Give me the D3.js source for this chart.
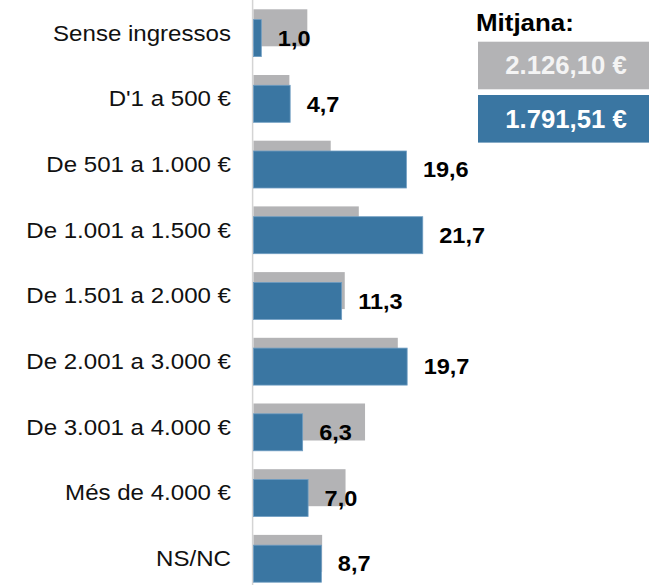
<!DOCTYPE html>
<html>
<head>
<meta charset="utf-8">
<script src="https://cdn.jsdelivr.net/npm/d3@7"></script>
<style>
  body { margin: 0; background: #fff; }
  text { font-family: 'Liberation Sans', Arial, sans-serif; }
</style>
</head>
<body>
<div id="graph"></div>
<script>
const categories = [
	'Sense ingressos',
	"D'1 a 500 €",
	'De 501 a 1.000 €',
	'De 1.001 a 1.500 €',
	'De 1.501 a 2.000 €',
	'De 2.001 a 3.000 €',
	'De 3.001 a 4.000 €',
	'Més de 4.000 €',
	'NS/NC'
];

// barra blava (amb etiqueta)
const blueValues = [1.0, 4.7, 19.6, 21.7, 11.3, 19.7, 6.3, 7.0, 8.7];
// barra grisa de fons (sense etiqueta, llegida del gràfic)
const greyValues = [6.9, 4.6, 9.9, 13.5, 11.7, 18.5, 14.3, 11.8, 8.8];

const legendTitle = 'Mitjana:';
const legendLabels = ['2.126,10 €', '1.791,51 €'];

const grey = '#b3b3b5';
const blue = '#3a76a2';

const width = 649;
const height = 585;

const svg = d3.select('#graph')
	.append('svg')
	.attr('width', width)
	.attr('height', height);

const xScale = d3.scaleLinear()
	.domain([0, 25])
	.range([253.5, 253.5 + 25 * 7.8]);

const yScale = d3.scaleBand()
	.domain(categories)
	.range([9.3, 582.2])
	.paddingInner(0.28)
	.paddingOuter(0);

const barH = 37;
const offset = yScale.bandwidth() - barH;
const fmt = v => d3.format('.1f')(v).replace('.', ',');

// text una mica eixamplat, com a l'original
const stretch = (sel, sx) => sel.attr('transform', function() {
	const x = +this.getAttribute('data-x'), y = +this.getAttribute('data-y');
	return `translate(${x},${y}) scale(${sx},1)`;
});

// línia de l'eix
svg.append('line')
	.attr('x1', 252.6).attr('x2', 252.6)
	.attr('y1', 0).attr('y2', height)
	.attr('stroke', '#d4d4d4')
	.attr('stroke-width', 1.5);

svg.append('g')
	.selectAll('rect')
	.data(greyValues)
	.enter()
	.append('rect')
	.attr('x', xScale(0))
	.attr('y', (d, i) => yScale(categories[i]))
	.attr('width', d => xScale(d) - xScale(0))
	.attr('height', barH)
	.attr('fill', grey);

svg.append('g')
	.selectAll('rect')
	.data(blueValues)
	.enter()
	.append('rect')
	.attr('x', xScale(0))
	.attr('y', (d, i) => yScale(categories[i]) + offset)
	.attr('width', d => xScale(d) - xScale(0))
	.attr('height', barH)
	.attr('fill', blue)
	.attr('stroke', '#6f9dc2')
	.attr('stroke-width', 0.8);

// etiquetes de categoria
svg.append('g')
	.selectAll('text')
	.data(categories)
	.enter()
	.append('text')
	.attr('data-x', 231)
	.attr('data-y', d => yScale(d) + yScale.bandwidth() / 2)
	.attr('dy', '0.35em')
	.attr('text-anchor', 'end')
	.style('font-size', '21.6px')
	.style('fill', '#111')
	.text(d => d)
	.call(stretch, 1.115);

// valors
svg.append('g')
	.selectAll('text')
	.data(blueValues)
	.enter()
	.append('text')
	.attr('data-x', d => xScale(d) + 16.5)
	.attr('data-y', (d, i) => yScale(categories[i]) + offset + barH / 2)
	.attr('dy', '0.35em')
	.style('font-size', '22px')
	.style('font-weight', 'bold')
	.style('fill', '#000')
	.text(d => fmt(d))
	.call(stretch, 1.07);

// llegenda
const legend = svg.append('g');

legend.append('text')
	.attr('data-x', 476)
	.attr('data-y', 31)
	.style('font-size', '24px')
	.style('font-weight', 'bold')
	.text(legendTitle)
	.call(stretch, 1.08);

const boxes = [
	{ label: legendLabels[0], color: grey, y: 41.7, textColor: '#f4f4f4' },
	{ label: legendLabels[1], color: blue, y: 95, textColor: '#ffffff' }
];

legend.selectAll('rect')
	.data(boxes)
	.enter()
	.append('rect')
	.attr('x', 478)
	.attr('y', d => d.y)
	.attr('width', 176)
	.attr('height', 47.6)
	.attr('fill', d => d.color);

legend.selectAll('text.box')
	.data(boxes)
	.enter()
	.append('text')
	.attr('class', 'box')
	.attr('data-x', 566)
	.attr('data-y', d => d.y + 23.8)
	.attr('dy', '0.35em')
	.attr('text-anchor', 'middle')
	.style('font-size', '25px')
	.style('font-weight', 'bold')
	.style('fill', d => d.textColor)
	.text(d => d.label)
	.call(stretch, 1.03);
</script>
</body>
</html>
